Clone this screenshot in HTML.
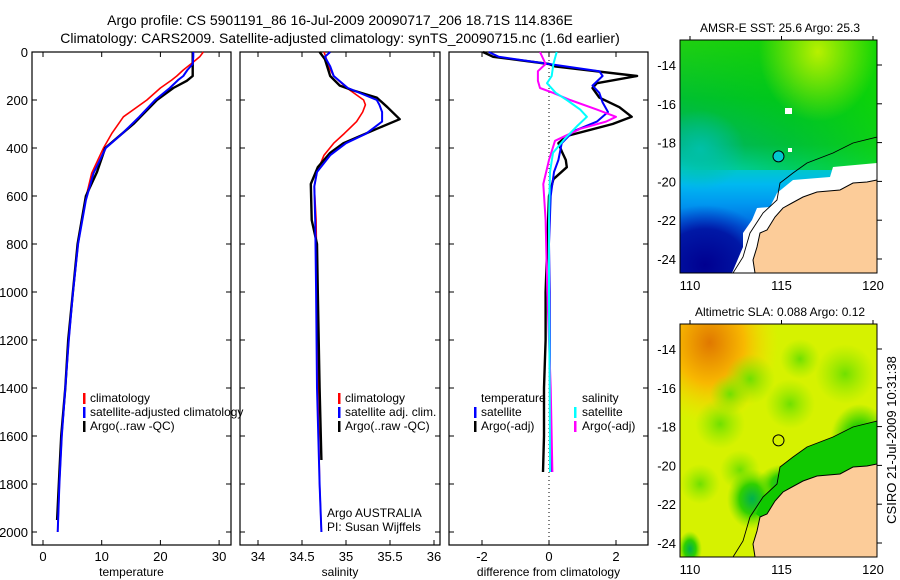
<!DOCTYPE html>
<html><head><meta charset="utf-8">
<style>
html,body{margin:0;padding:0;background:#fff;}
svg{display:block;font-family:"Liberation Sans",sans-serif;}
text{fill:#000;}
</style></head>
<body>
<svg id="fig" width="900" height="580" viewBox="0 0 900 580">
<defs>
  <linearGradient id="sstGrad" x1="0" y1="0" x2="0" y2="1">
    <stop offset="0" stop-color="#20d010"/>
    <stop offset="0.25" stop-color="#00c030"/>
    <stop offset="0.45" stop-color="#00b070"/>
    <stop offset="0.55" stop-color="#00c8c8"/>
    <stop offset="0.62" stop-color="#00b8f0"/>
    <stop offset="0.7" stop-color="#0098f0"/>
    <stop offset="0.8" stop-color="#0068e0"/>
    <stop offset="1" stop-color="#0048c8"/>
  </linearGradient>
  <linearGradient id="sstRight" x1="0" y1="0" x2="1" y2="0">
    <stop offset="0" stop-color="#00d000" stop-opacity="0"/>
    <stop offset="0.55" stop-color="#00d000" stop-opacity="0.5"/>
    <stop offset="1" stop-color="#10d800" stop-opacity="0.8"/>
  </linearGradient>
  <radialGradient id="sstYel" cx="0.7" cy="0.05" r="0.3">
    <stop offset="0" stop-color="#b8f000"/>
    <stop offset="1" stop-color="#b8f000" stop-opacity="0"/>
  </radialGradient>
  <radialGradient id="sstNavy" cx="0.5" cy="0.5" r="0.5">
    <stop offset="0" stop-color="#000090"/>
    <stop offset="0.6" stop-color="#0010a0" stop-opacity="0.9"/>
    <stop offset="1" stop-color="#0030c0" stop-opacity="0"/>
  </radialGradient>
  <radialGradient id="sstTeal" cx="0.5" cy="0.5" r="0.5">
    <stop offset="0" stop-color="#00c0a8"/>
    <stop offset="1" stop-color="#00c0a8" stop-opacity="0"/>
  </radialGradient>
  <radialGradient id="slaOrange" cx="0.15" cy="0.08" r="0.35">
    <stop offset="0" stop-color="#e07800"/>
    <stop offset="0.5" stop-color="#f8b800"/>
    <stop offset="1" stop-color="#f8e000" stop-opacity="0"/>
  </radialGradient>
  <radialGradient id="slaGreen">
    <stop offset="0" stop-color="#00b050"/>
    <stop offset="0.5" stop-color="#30d000"/>
    <stop offset="1" stop-color="#70e000" stop-opacity="0"/>
  </radialGradient>
  <radialGradient id="slaLight">
    <stop offset="0" stop-color="#70e000"/>
    <stop offset="1" stop-color="#90e800" stop-opacity="0"/>
  </radialGradient>
  <clipPath id="clipMap1"><rect x="680" y="40" width="197" height="233"/></clipPath>
  <clipPath id="clipMap2"><rect x="680" y="324" width="197" height="233"/></clipPath>
</defs>

<text x="340" y="25" text-anchor="middle" font-size="14">Argo profile: CS 5901191_86 16-Jul-2009 20090717_206 18.71S 114.836E</text>
<text x="340" y="43" text-anchor="middle" font-size="14">Climatology: CARS2009. Satellite-adjusted climatology: synTS_20090715.nc (1.6d earlier)</text>

<g id="panels"></g>
<g id="maps"></g>

<text transform="translate(896,440) rotate(-90)" text-anchor="middle" font-size="13">CSIRO 21-Jul-2009 10:31:38</text>
</svg>

<script>
// ---------------- DATA ----------------
const tDepth = [0,20,50,75,100,117,150,200,270,340,400,505,617,797,1005,1200,1400,1600,1800,2000];
const tClim  = [27.3,26.7,25.2,23.9,22.8,21.9,20.0,17.7,13.7,11.7,10.3,8.3,7.2,6.0,5.1,4.4,3.8,3.2,2.8,2.5];
const tSat   = [25.6,25.6,25.5,24.6,23.9,23.0,21.6,19.1,16.4,13.5,10.7,8.6,7.3,6.0,5.1,4.4,3.8,3.2,2.8,2.5];
const aDepth = [0,50,100,120,150,200,300,400,500,600,800,1000,1200,1400,1600,1750,1950];
const tArgo  = [25.5,25.5,25.5,24.5,22.2,19.4,15.4,10.6,9.2,7.3,5.9,5.1,4.3,3.8,3.1,2.8,2.4];

const sDepth = [0,20,60,100,150,200,220,250,290,340,380,430,500,560,700,1000,1400,1800,2000];
const sClim  = [34.75,34.77,34.80,34.86,35.01,35.20,35.22,35.19,35.12,34.98,34.86,34.75,34.67,34.64,34.66,34.67,34.68,34.70,34.72];
const sSat   = [34.82,34.76,34.82,34.86,35.02,35.35,35.38,35.41,35.41,35.23,35.00,34.82,34.67,34.64,34.65,34.66,34.67,34.70,34.72];
const saDepth= [0,30,100,140,160,190,230,280,320,380,420,480,550,700,800,1000,1400,1700];
const sArgo  = [34.70,34.76,34.82,34.93,35.08,35.35,35.47,35.61,35.35,34.97,34.82,34.68,34.60,34.61,34.67,34.68,34.70,34.72];

const dDepth = [0,20,50,60,100,130,150,190,230,270,300,350,380,420,450,480,530,600,800,1000,1200,1400,1600,1750];
const dTArgo = [-1.97,-1.67,0,0.18,2.63,1.43,1.3,1.5,2.1,2.47,1.9,0.53,0.28,0.4,0.5,0.53,0.13,0.0,-0.05,-0.1,-0.1,-0.15,-0.15,-0.18];
const dsDepth= [0,20,50,80,100,140,170,210,250,290,330,380,450,500,600,800,1000,1400,1750];
const dTSat  = [-1.8,-1.5,0,1.5,1.6,1.3,1.5,1.6,1.76,1.43,0.73,0.38,0.28,0.15,0.05,0.0,0.02,0.03,0.05];
const msDepth= [0,50,80,120,150,170,200,240,270,290,320,370,450,550,700,1000,1400,1750];
const dSArgo = [-0.27,-0.1,-0.33,-0.33,-0.27,0.12,0.63,1.43,2.0,1.7,0.93,0.18,0.0,-0.17,-0.1,-0.05,0.05,0.1];
const csDepth= [0,50,100,130,170,200,240,270,310,360,420,500,700,1000,1400,1750];
const dSSat  = [0.23,0.13,0.08,-0.06,0.2,0.53,0.93,1.13,0.83,0.48,0.12,0.03,0.0,0.0,0.02,0.03];

const depthTicks = [0,200,400,600,800,1000,1200,1400,1600,1800,2000];
const tTicks = [0,10,20,30];
const sTicks = [34,34.5,35,35.5,36];
const dTicks = [-2,0,2];
const latTicks = [-14,-16,-18,-20,-22,-24];
const lonTicks = [110,115,120];

// ---------------- HELPERS ----------------
const NS='http://www.w3.org/2000/svg';
function mk(tag,attrs,parent){const e=document.createElementNS(NS,tag);for(const k in attrs)e.setAttribute(k,attrs[k]);parent.appendChild(e);return e;}
const yD = d => 52 + d*0.24;
const xT = v => 43 + v*5.87;
const xS = v => 258 + (v-34)*88;
const xDf = v => 549 + v*33.5;
const panels = document.getElementById('panels');

function line(xs,ys,xf,color,w,name){
  const p = xs.map((v,i)=>xf(v).toFixed(1)+','+yD(ys[i]).toFixed(1)).join(' ');
  const e = mk('polyline',{points:p,fill:'none',stroke:color,'stroke-width':w,'stroke-linejoin':'round'},panels);
  
  
}
function frame(x0,x1,name,ticks,xf,fmt,label,showY){
  const g = mk('g',{},panels);
  
  
  mk('rect',{x:x0,y:52,width:x1-x0,height:493,fill:'none',stroke:'#000','stroke-width':1.2},g);
  depthTicks.forEach(d=>{
    const y=yD(d);
    mk('line',{x1:x0,x2:x0+5,y1:y,y2:y,stroke:'#000'},g);
    mk('line',{x1:x1-5,x2:x1,y1:y,y2:y,stroke:'#000'},g);
    if(showY){const t=mk('text',{x:x0-4,y:y+5,'text-anchor':'end','font-size':13},g);t.textContent=d;
      
      }
  });
  ticks.forEach(v=>{
    const x=xf(v);
    mk('line',{x1:x,x2:x,y1:52,y2:57,stroke:'#000'},g);
    mk('line',{x1:x,x2:x,y1:540,y2:545,stroke:'#000'},g);
    const t=mk('text',{x:x,y:561,'text-anchor':'middle','font-size':13},g);t.textContent=fmt(v);
    
    
  });
  const l=mk('text',{x:(x0+x1)/2,y:576,'text-anchor':'middle','font-size':12},g);l.textContent=label;
  
  
}
function legend(x,y,items){
  items.forEach((it,i)=>{
    const yy=y+i*14;
    if(it.c) mk('rect',{x:x,y:yy-9,width:2.5,height:11,fill:it.c},panels);
    const t=mk('text',{x:x+it.dx,y:yy,'font-size':12},panels);t.textContent=it.t;
    
    
  });
}

// Panel 1
frame(32,231,'temperature-panel',tTicks,xT,v=>v,'temperature',true);
line(tClim,tDepth,xT,'#ff0000',1.6,'temp-climatology-line');
line(tArgo,aDepth,xT,'#000000',2.4,'temp-argo-line');
line(tSat,tDepth,xT,'#0000ff',2,'temp-satellite-line');
legend(83,402,[{c:'#ff0000',t:'climatology',dx:7},{c:'#0000ff',t:'satellite-adjusted climatology',dx:7},{c:'#000',t:'Argo(..raw -QC)',dx:7}]);

// Panel 2
frame(240,440,'salinity-panel',sTicks,xS,v=>v,'salinity',false);
line(sClim,sDepth,xS,'#ff0000',1.6,'sal-climatology-line');
line(sArgo,saDepth,xS,'#000000',2.4,'sal-argo-line');
line(sSat,sDepth,xS,'#0000ff',2,'sal-satellite-line');
legend(338,402,[{c:'#ff0000',t:'climatology',dx:7},{c:'#0000ff',t:'satellite adj. clim.',dx:7},{c:'#000',t:'Argo(..raw -QC)',dx:7}]);
{const t=mk('text',{x:327,y:517,'font-size':12},panels);t.textContent='Argo AUSTRALIA';
  
 const t2=mk('text',{x:327,y:531,'font-size':12},panels);t2.textContent='PI: Susan Wijffels';
  }

// Panel 3
frame(449,648,'difference-panel',dTicks,xDf,v=>v,'difference from climatology',false);
mk('line',{x1:xDf(0),x2:xDf(0),y1:52,y2:545,stroke:'#000','stroke-dasharray':'1,3'},panels);
line(dTArgo,dDepth,xDf,'#000000',2.4,'diff-temp-argo-line');
line(dTSat,dsDepth,xDf,'#0000ff',2,'diff-temp-satellite-line');
line(dSArgo,msDepth,xDf,'#ff00ff',2,'diff-sal-argo-line');
line(dSSat,csDepth,xDf,'#00ffff',2,'diff-sal-satellite-line');
legend(474,402,[{c:null,t:'temperature',dx:7},{c:'#0000ff',t:'satellite',dx:7},{c:'#000',t:'Argo(-adj)',dx:7}]);
legend(574,402,[{c:null,t:'salinity',dx:8},{c:'#00ffff',t:'satellite',dx:8},{c:'#ff00ff',t:'Argo(-adj)',dx:8}]);

// ---------------- MAPS ----------------
const maps=document.getElementById('maps');
const lonX = lon => 690 + (lon-110)*18.3;
function latY(lat,top){ return top + 25 + (-14-lat)*19.4; }
const land = [[877,180],[867,182],[853,183],[840,190],[817,192],[803,197],[792,203],[783,208],[775,217],[767,230],[760,233],[757,247],[753,260],[755,273],[877,273]];
const gap  = [[877,163],[833,167],[830,177],[793,180],[777,193],[770,207],[757,208],[752,220],[743,233],[743,247],[732,273],[877,273]];
const coast= [[877,137],[853,143],[833,153],[807,163],[793,173],[780,183],[777,200],[763,213],[750,233],[743,257],[733,273]];
const pts=(a,dy)=>a.map(p=>p[0]+','+(p[1]+dy)).join(' ');

function map(top,name,title,kind){
  const g=mk('g',{},maps);
  
  
  const dy = top-40;
  const c = mk('g',{'clip-path':'url(#clipMap'+(kind==='sst'?1:2)+')'},g);
  if(kind==='sst'){
    mk('rect',{x:680,y:top,width:197,height:233,fill:'url(#sstGrad)'},c);
    mk('rect',{x:680,y:top,width:197,height:130,fill:'url(#sstRight)'},c);
    mk('ellipse',{cx:700,cy:top+110,rx:45,ry:40,fill:'url(#sstTeal)'},c);
    mk('ellipse',{cx:705,cy:top+225,rx:70,ry:60,fill:'url(#sstNavy)'},c);
    mk('rect',{x:680,y:top,width:197,height:233,fill:'url(#sstYel)'},c);
    mk('polygon',{points:pts(gap,dy),fill:'#fff'},c);
    mk('rect',{x:785,y:top+68,width:7,height:6,fill:'#fff'},c);
    mk('rect',{x:788,y:top+108,width:4,height:4,fill:'#fff'},c);
  } else {
    mk('rect',{x:680,y:top,width:197,height:233,fill:'#d6f200'},c);
    mk('rect',{x:680,y:top,width:197,height:233,fill:'url(#slaOrange)'},c);
    [[720,140,25],[750,95,25],[800,75,20],[845,90,30],[860,150,30],[700,200,20],[740,186,20],[790,120,25],[730,110,20]].forEach(a=>
      mk('circle',{cx:a[0],cy:a[1]+dy,r:a[2],fill:'url(#slaLight)'},c));
    mk('ellipse',{cx:752,cy:top+175,rx:25,ry:30,fill:'url(#slaGreen)'},c);
    mk('ellipse',{cx:860,cy:top+120,rx:30,ry:40,fill:'url(#slaGreen)'},c);
    mk('ellipse',{cx:690,cy:top+225,rx:12,ry:18,fill:'url(#slaGreen)'},c);
    mk('ellipse',{cx:785,cy:top+160,rx:28,ry:20,fill:'url(#slaGreen)'},c);
    mk('polygon',{points:pts([[877,137],[853,143],[833,153],[807,163],[793,173],[780,183],[777,200],[763,213],[756,230],[760,233],[767,230],[775,217],[783,208],[792,203],[803,197],[817,192],[840,190],[877,180]],dy),fill:'#10c800'},c);
  }
  mk('polygon',{points:pts(land,dy),fill:'#fccc99'},c);
  mk('polyline',{points:pts(land.slice(0,14),dy),fill:'none',stroke:'#000','stroke-width':1},c);
  mk('polyline',{points:pts(coast,dy),fill:'none',stroke:'#000','stroke-width':0.9},c);
  const circ = mk('circle',{cx:lonX(114.836),cy:latY(-18.71,top),r:5.5,fill:kind==='sst'?'#00c8d0':'none',stroke:'#000','stroke-width':1},g);
  
  
  mk('rect',{x:680,y:top,width:197,height:233,fill:'none',stroke:'#000','stroke-width':1},g);
  latTicks.forEach(l=>{
    const y=latY(l,top);
    mk('line',{x1:877,x2:882,y1:y,y2:y,stroke:'#000'},g);
    const t=mk('text',{x:676,y:y+5,'text-anchor':'end','font-size':13},g);t.textContent=l;
    
    
  });
  lonTicks.forEach(l=>{
    const x=lonX(l);
    mk('line',{x1:x,x2:x,y1:top-4,y2:top,stroke:'#000'},g);
    const t=mk('text',{x:x,y:top+250,'text-anchor':'middle','font-size':13},g);t.textContent=l;
    
    
  });
  const tt=mk('text',{x:780,y:top-8,'text-anchor':'middle','font-size':12},g);tt.textContent=title;
  
  
}
map(40,'sst-map','AMSR-E SST: 25.6 Argo: 25.3','sst');
map(324,'sla-map','Altimetric SLA: 0.088 Argo: 0.12','sla');
</script>
</body></html>
